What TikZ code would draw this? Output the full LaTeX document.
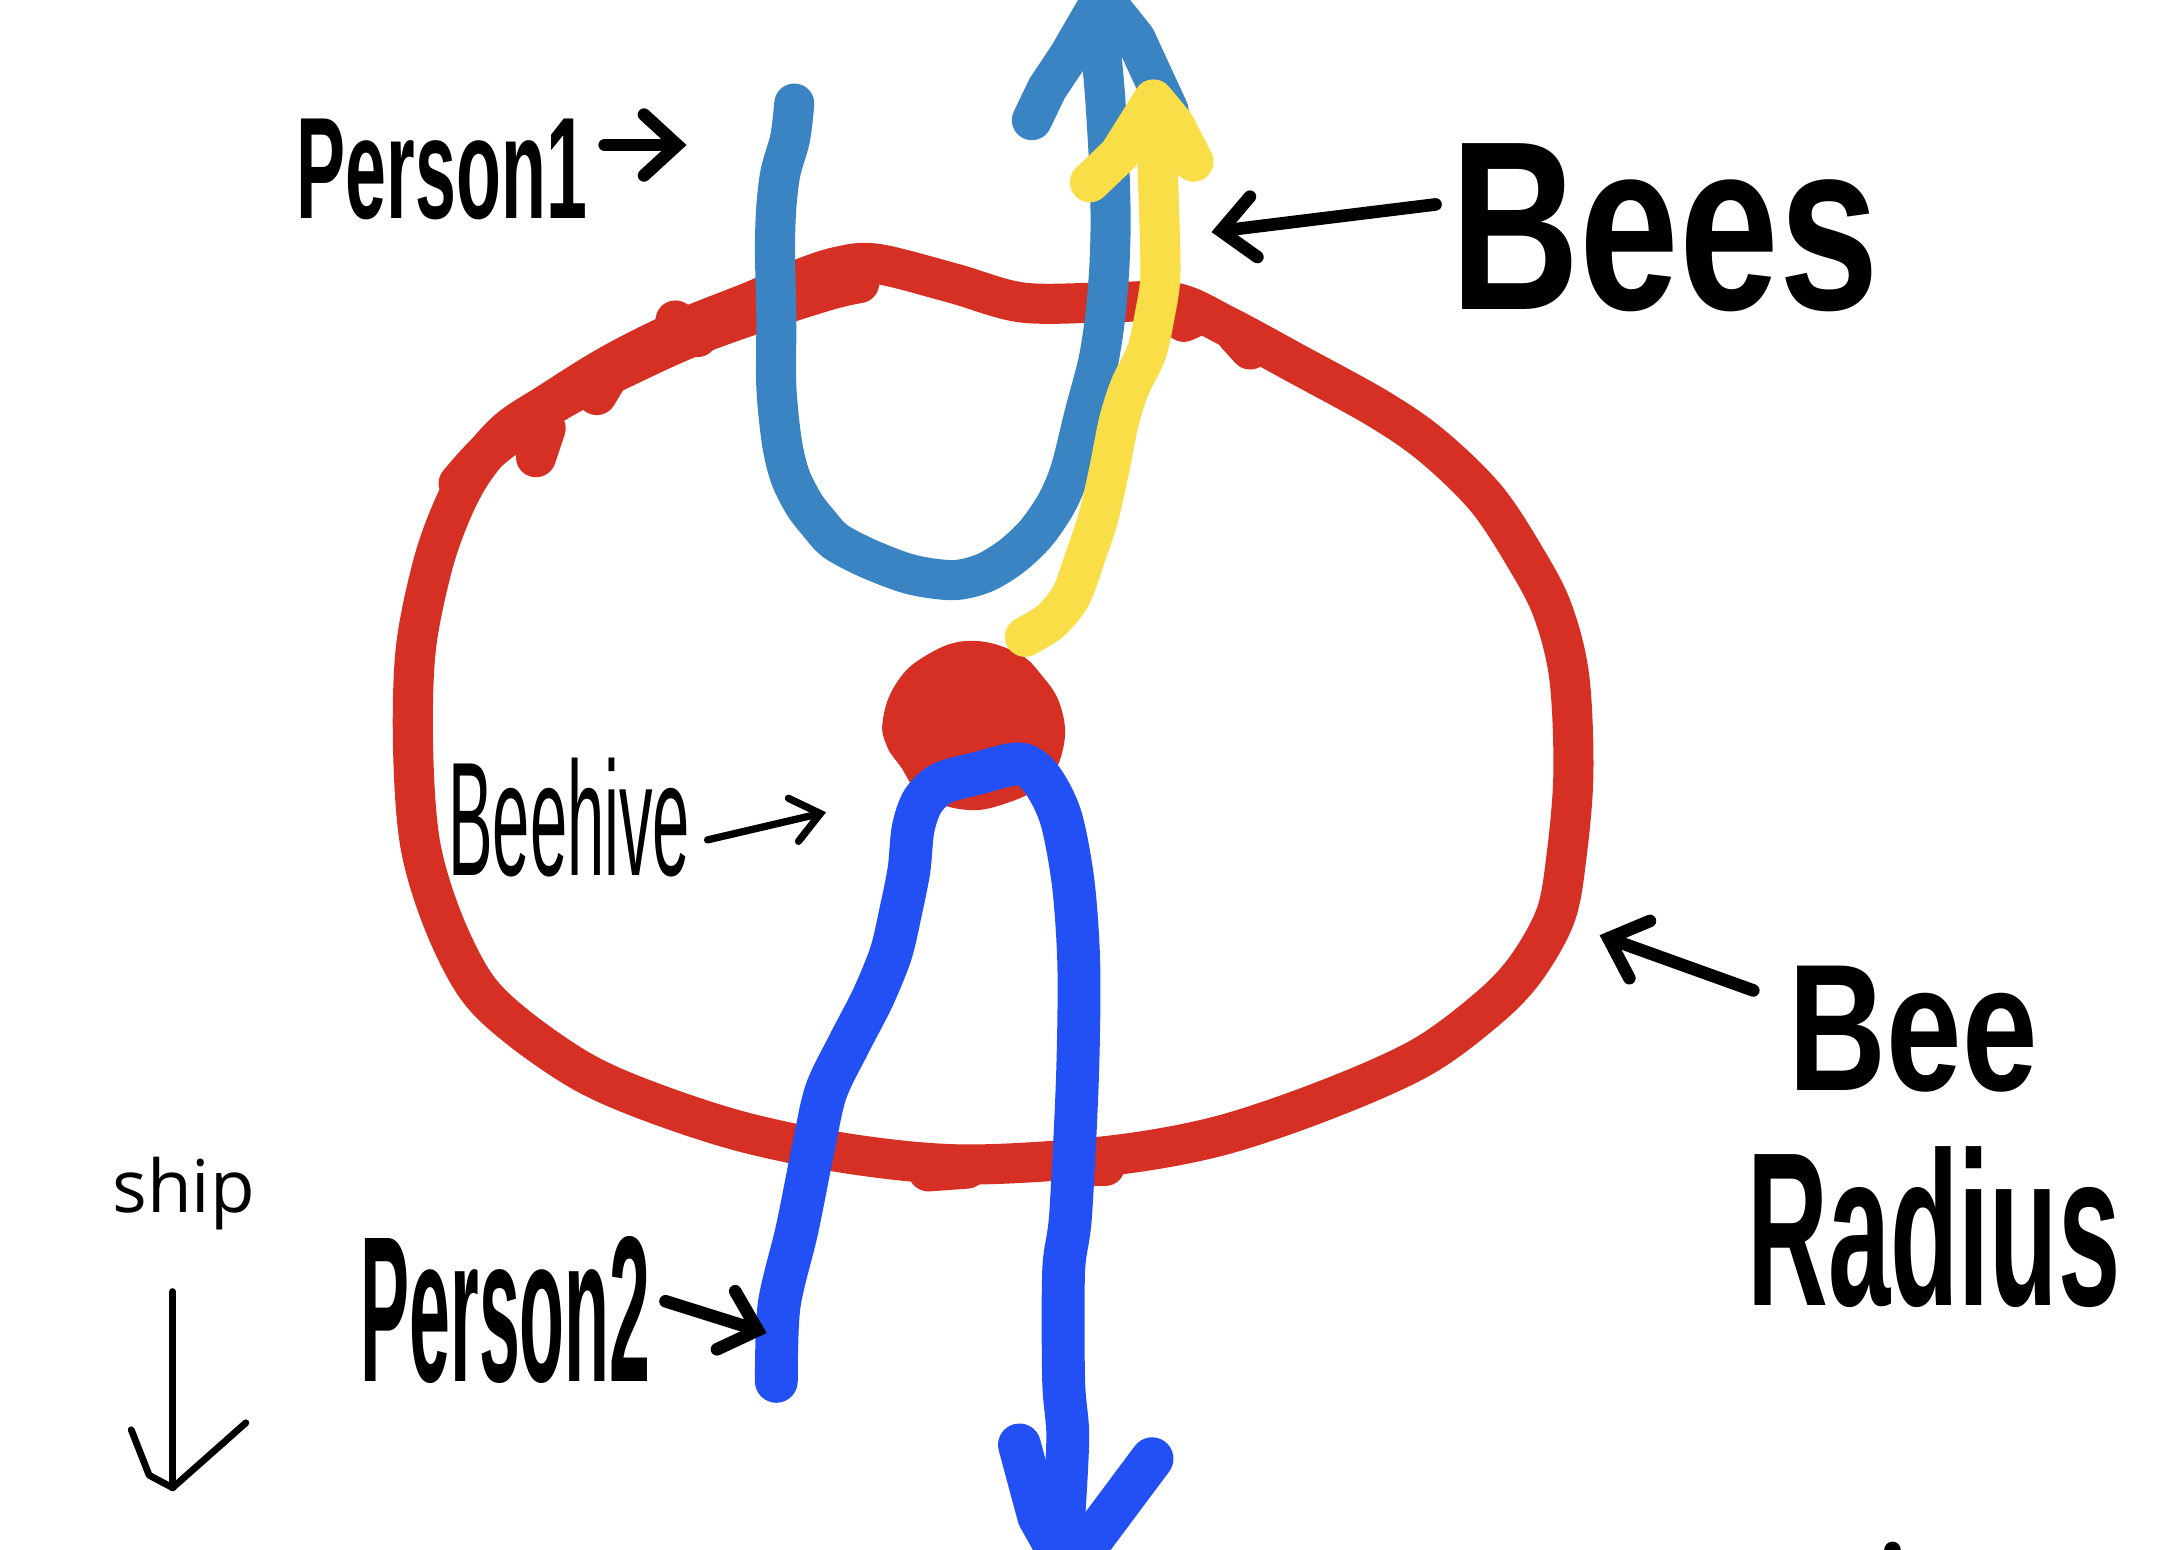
\documentclass[tikz,border=0pt]{standalone}
\usepackage{fontspec}
\setmainfont{Liberation Sans}
\newfontfamily\shipfont{Open Sans}
\usetikzlibrary{arrows.meta}
\definecolor{hivered}{HTML}{D53023}
\definecolor{blueU}{HTML}{3A84C4}
\definecolor{blueL}{HTML}{2350F5}
\definecolor{beeyellow}{HTML}{FADE48}
\begin{document}
\begin{tikzpicture}[x=0.01cm,y=-0.01cm,
  stroke/.style={line cap=round,line join=round},
  ring/.style={stroke,draw=hivered,line width=0.29cm},
  pathA/.style={stroke,draw=blueU,line width=0.29cm},
  pathB/.style={stroke,draw=blueL,line width=0.31cm},
  beepath/.style={stroke,draw=beeyellow,line width=0.29cm},
  harrow/.style={stroke,line width=2.6pt,-{Straight Barb[length=0.24cm,width=0.44cm,line cap=round]}},
  thinarrow/.style={stroke,line width=1.5pt,-{Straight Barb[length=0.2cm,width=0.32cm,line cap=round]}},
  lbl/.style={inner sep=0pt,font=\bfseries},
  lblthin/.style={inner sep=0pt}]
\useasboundingbox (0,0) rectangle (1568,1122);
\fill[white] (0,0) rectangle (1568,1122);

% bee radius ring
\draw[ring] plot[smooth cycle,tension=0.55] coordinates {
  (700,843) (620,836) (540,820) (472,798) (422,776) (374,743) (344,713)
  (320,665) (304,610) (299,540) (301,470) (313,410) (327,370) (343,340)
  (367,312) (397,292) (442,264) (492,239) (547,217) (577,203) (607,193)
  (635,191) (690,205) (740,219) (800,219) (850,219) (888,236) (938,263)
  (998,296) (1037,323) (1076,361) (1105,405) (1124,442) (1136,490)
  (1139,560) (1134,620) (1126,663) (1104,702) (1076,731) (1028,766)
  (958,797) (880,823) (800,837)};
% thicker doubled strokes on the upper left
\draw[ring] plot[smooth,tension=0.6] coordinates {(332,350) (352,328) (378,308) (408,288) (448,268) (498,245) (550,226) (600,210) (622,205)};
\draw[ring] (388,331) -- (395,310);
\draw[ring] (432,286) -- (438,276);
\draw[ring] (489,232) -- (505,244);
\draw[ring] (857,233) -- (868,228);
\draw[ring] (905,253) -- (895,242);
\draw[ring] (672,848) -- (700,846);
\draw[ring] (800,844) -- (780,844);

% beehive blob
\fill[hivered] plot[smooth cycle,tension=0.7] coordinates {
  (639,522) (648,496) (668,476) (700,464) (735,472) (755,490) (768,512)
  (770,540) (757,566) (727,582) (697,586) (667,575) (652,555) (642,540)};

% person 1 path (upper blue)
\draw[pathA] plot[smooth,tension=0.5] coordinates {
  (575,75) (572,100) (565,125) (562,150) (561,180) (562,230) (562,280)
  (566,320) (572,345) (582,365) (592,378) (605,392) (630,405) (660,416)
  (690,420) (712,415) (732,403) (750,386) (765,364) (775,340) (785,300)
  (795,262) (800,230) (803,195) (804,160) (803,120) (800,70) (797,35) (795,0)};
\draw[pathA] (747,87) -- (758,64) -- (774,40) -- (796,2);
\draw[pathA] (806,8) -- (822,28) -- (846,80);

% bee path (yellow)
\draw[beepath] plot[smooth,tension=0.5] coordinates {
  (742,461) (760,450) (775,432) (785,405) (795,375) (803,340) (810,305)
  (818,280) (830,255) (836,228) (840,200) (839,150) (837,100) (835,75)};
\draw[beepath] (789,132) -- (810,112) -- (835,72) -- (850,90) -- (864,117);

% person 2 path (lower blue)
\draw[pathB] plot[smooth,tension=0.5] coordinates {
  (562,1000) (564,945) (577,890) (589,830) (598,790) (615,755) (632,722)
  (645,690) (652,660) (658,630) (661,600) (668,580) (682,567) (707,560)
  (738,553) (754,564) (768,592) (777,640) (781,700) (780,780) (775,880)
  (770,920) (770,1000) (773,1040) (770,1100)};
\draw[pathB] (738,1046) -- (752,1098) -- (770,1130);
\draw[pathB] (834,1056) -- (775,1135);

% labels
\node[lbl] (person1) at (320,123) {\resizebox{2.1cm}{0.72cm}{Person1}};
\node[lbl] (bees) at (1205,165) {\resizebox{3.1cm}{1.2cm}{Bees}};
\node[lblthin] (beehive) at (412,592) {\resizebox{1.75cm}{0.85cm}{Beehive}};
\node[lbl] (bee) at (1385,745) {\resizebox{1.8cm}{0.9cm}{Bee}};
\node[lbl] (radius) at (1400,888) {\resizebox{2.7cm}{1.15cm}{Radius}};
\node[lbl] (person2) at (366,948) {\resizebox{2.1cm}{1.05cm}{Person2}};
\node[inner sep=0pt,anchor=base,font=\shipfont\fontsize{15}{18}\selectfont] (ship) at (133,878) {ship};

% pointer arrows
\coordinate (p1tip) at (497,105);
\coordinate (beestip) at (877,168);
\coordinate (hivetip) at (598,588);
\coordinate (radtip) at (1158,677);
\coordinate (p2tip) at (555,965);
\coordinate (shiptip) at (125,1077);
\draw[harrow] ([shift={(12,-18)}]person1.east) -- (p1tip);
\draw[harrow] ([shift={(-10,-17)}]bees.west) -- (beestip);
\draw[thinarrow] ([shift={(12,16)}]beehive.east) -- (hivetip);
\draw[harrow] ([shift={(-25,-28)}]bee.west) -- (radtip);
\draw[harrow] ([shift={(10,-6)}]person2.east) -- (p2tip);
\draw[stroke,line width=1.4pt] ([shift={(-8,57)}]ship.base) -- (shiptip);
\draw[stroke,line width=1.4pt] (shiptip) -- ++(-17,-9) -- ++(-13,-33);
\draw[stroke,line width=1.4pt] (shiptip) -- ++(53,-47);

% stray dot
\fill (1370,1122) circle (6);
\end{tikzpicture}
\end{document}
